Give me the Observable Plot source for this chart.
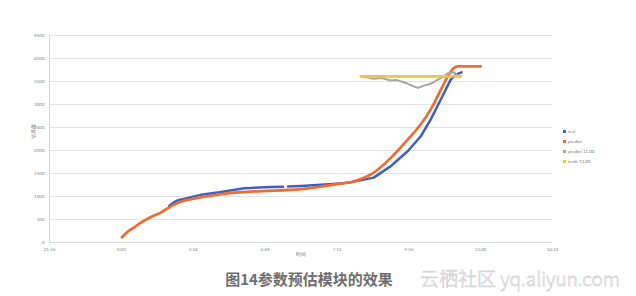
<!DOCTYPE html>
<html><head><meta charset="utf-8">
<script src="https://cdn.jsdelivr.net/npm/d3@7"></script>
<script src="https://cdn.jsdelivr.net/npm/@observablehq/plot@0.6"></script>
<style>
body{margin:0;background:#fff;font-family:"Noto Sans CJK SC","Noto Sans",sans-serif;}
#wrap{position:relative;width:636px;height:296px;}
#legend{position:absolute;left:563px;top:129px;font:4.5px Lato,sans-serif;color:#777;}
#legend div{height:10px;line-height:6px;white-space:nowrap;}
#legend span{display:inline-block;width:3px;height:3px;margin-right:2px;vertical-align:middle;}
#caption{position:absolute;left:0;top:268px;width:618px;text-align:center;font-size:15px;font-weight:bold;color:#6e6e6e;}
#wm{position:absolute;left:420px;top:264px;font-size:19px;color:#fff;-webkit-text-stroke:0.8px #d8d8d8;font-family:"Noto Sans CJK SC",sans-serif;font-weight:300;}
</style></head>
<body><div id="wrap"><div id="chart"></div>
<div id="legend"></div>
<div id="caption">图14参数预估模块的效果</div>
<div id="wm">云栖社区 yq.aliyun.com</div>
</div>
<script>
const xTicks = [-2.4, 0, 2.4, 4.8, 7.2, 9.6, 12, 14.4];
const xTickLabels = ["21:36","0:00","2:24","4:48","7:12","9:36","12:00","14:24"];
const yTicks = [0,500,1000,1500,2000,2500,3000,3500,4000,4500];

const seriesNames = ["real","predict","predict 11.00","truth 11.00"];
const seriesColors = ["#3d5fc4","#f26b2f","#a6a6a6","#f5c140"];

const predictT = [0.02,0.2,0.43,0.6,0.77,1.0,1.33,1.6,2.0,2.57,3.0,3.33,4.43,6.0,7.33,7.67,8.0,8.43,9.0,9.57,10.0,10.33,10.67,10.9,11.07,11.23,12.0];
const predictV = [115,230,330,410,475,560,655,765,890,970,1015,1050,1110,1160,1280,1310,1380,1520,1840,2240,2570,2890,3320,3610,3770,3830,3830];

const realT = [1.6,1.75,1.9,2.2,2.67,3.33,4.1,5.0,5.4,5.48,5.57,6.0,7.33,7.9,8.43,9.0,9.57,10.0,10.33,10.67,11.0,11.17,11.36];
const realV = [800,870,920,965,1040,1100,1180,1205,1212,null,1220,1230,1280,1340,1410,1660,1990,2310,2670,3110,3540,3650,3700];

const grayT = [8.0,8.2,8.43,8.7,9.0,9.2,9.4,9.57,9.75,9.9,10.1,10.33,10.57,10.77,10.9,11.1,11.2,11.33];
const grayV = [3610,3590,3560,3575,3520,3530,3490,3450,3400,3360,3410,3450,3540,3610,3680,3700,3650,3610];

const truthT = [8.0,11.33];
const truthV = [3610,3610];

const toRows = (T,V) => T.map((t,i)=>({t, v: V[i]}));
const fmtX = d => xTickLabels[xTicks.indexOf(d)];

const chart = Plot.plot({
  width: 636, height: 262,
  marginLeft: 49, marginRight: 84, marginTop: 35, marginBottom: 20,
  style: {fontFamily: "Lato, sans-serif", fontSize: "4.5px", color: "#888", background: "#fff"},
  x: {domain: [-2.4, 14.4], ticks: xTicks, tickFormat: fmtX, tickSize: 0, label: null},
  y: {domain: [0, 4500], ticks: yTicks, tickFormat: d => String(d), tickSize: 0, label: null},
  marks: [
    Plot.gridY(yTicks, {stroke: "#e4e4e4", strokeOpacity: 1}),
    Plot.ruleY([0], {stroke: "#d6d6d6"}),
    Plot.ruleX([-2.4], {stroke: "#d6d6d6"}),
    Plot.axisX({ticks: xTicks, tickFormat: fmtX, tickSize: 0, tickPadding: 5, fontSize: 4.5, label: null}),
    Plot.axisY({ticks: yTicks, tickFormat: d => String(d), tickSize: 0, tickPadding: 5, fontSize: 4.5, label: null}),
    Plot.text(["时间"], {frameAnchor: "bottom", dy: 13, fontSize: 4.5, fill: "#777"}),
    Plot.text(["估算值"], {frameAnchor: "left", dx: -16, rotate: -90, fontSize: 4.5, fill: "#777"}),
    Plot.line(toRows(realT, realV), {x: "t", y: "v", stroke: seriesColors[0], strokeWidth: 2.5, defined: d => d.v != null}),
    Plot.line(toRows(predictT, predictV), {x: "t", y: "v", stroke: seriesColors[1], strokeWidth: 2.7, curve: "monotone-x"}),
    Plot.line(toRows(grayT, grayV), {x: "t", y: "v", stroke: seriesColors[2], strokeWidth: 2}),
    Plot.line(toRows(truthT, truthV), {x: "t", y: "v", stroke: seriesColors[3], strokeWidth: 2.7})
  ]
});
document.getElementById("chart").append(chart);
const lg = document.getElementById("legend");
seriesNames.forEach((n,i)=>{
  const d = document.createElement("div");
  d.innerHTML = `<span style="background:${seriesColors[i]}"></span>${n}`;
  lg.append(d);
});
</script></body></html>
